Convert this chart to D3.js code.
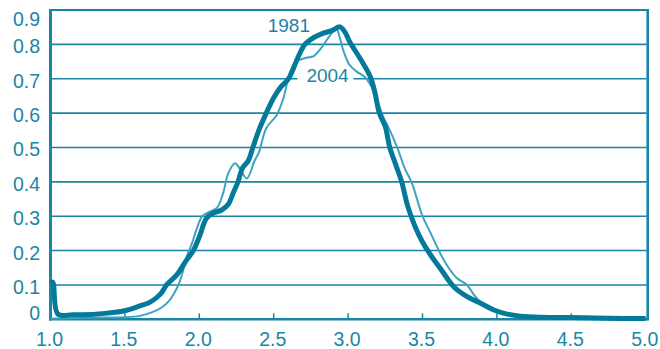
<!DOCTYPE html>
<html lang="en">
<head>
<meta charset="UTF-8">
<script src="https://cdn.jsdelivr.net/npm/d3@7"></script>
<style>
    body { margin: 0; background: #fff; }
    text { font-family: "Liberation Sans", Arial, sans-serif; }
</style>
</head>
<body>
<div id="chart"></div>
<script>
    // Values
    const xTicks = [1.0, 1.5, 2.0, 2.5, 3.0, 3.5, 4.0, 4.5, 5.0];
    const yTicks = [0, 0.1, 0.2, 0.3, 0.4, 0.5, 0.6, 0.7, 0.8, 0.9];

    const series1981 = [
        [1.00, 0.105], [1.015, 0.108], [1.05, 0.015], [1.15, 0.013], [1.27, 0.014],
        [1.38, 0.018], [1.49, 0.024], [1.60, 0.039], [1.67, 0.050], [1.74, 0.074],
        [1.78, 0.100], [1.85, 0.130], [1.915, 0.173], [1.96, 0.200], [2.00, 0.240],
        [2.05, 0.295], [2.10, 0.310], [2.15, 0.318], [2.195, 0.335], [2.23, 0.370],
        [2.26, 0.400], [2.29, 0.440], [2.33, 0.462], [2.36, 0.500], [2.40, 0.550],
        [2.45, 0.600], [2.50, 0.645], [2.55, 0.677], [2.60, 0.700], [2.665, 0.764],
        [2.71, 0.800], [2.77, 0.820], [2.83, 0.832], [2.89, 0.840], [2.945, 0.851],
        [2.98, 0.835], [3.01, 0.808], [3.05, 0.780], [3.10, 0.745], [3.15, 0.705],
        [3.18, 0.660], [3.21, 0.600], [3.25, 0.560], [3.28, 0.500], [3.32, 0.450],
        [3.36, 0.400], [3.40, 0.330], [3.45, 0.270], [3.50, 0.225], [3.55, 0.190],
        [3.62, 0.148], [3.71, 0.095], [3.80, 0.066], [3.89, 0.047], [3.98, 0.027],
        [4.07, 0.015], [4.16, 0.009], [4.30, 0.006], [4.50, 0.005], [4.75, 0.003],
        [5.00, 0.002]
    ];

    const series2004 = [
        [1.00, 0.002], [1.10, 0.003], [1.30, 0.005], [1.50, 0.006], [1.60, 0.010],
        [1.68, 0.020], [1.75, 0.035], [1.80, 0.055], [1.83, 0.075], [1.86, 0.100],
        [1.89, 0.140], [1.915, 0.182], [1.95, 0.220], [1.98, 0.260], [2.02, 0.300],
        [2.07, 0.313], [2.12, 0.325], [2.16, 0.367], [2.195, 0.425], [2.24, 0.454],
        [2.27, 0.440], [2.32, 0.410], [2.37, 0.460], [2.40, 0.485], [2.45, 0.556],
        [2.52, 0.594], [2.565, 0.643], [2.61, 0.720], [2.65, 0.750], [2.72, 0.761],
        [2.77, 0.766], [2.82, 0.790], [2.88, 0.827], [2.92, 0.847], [2.945, 0.818],
        [2.97, 0.780], [3.01, 0.740], [3.06, 0.720], [3.11, 0.706], [3.16, 0.675],
        [3.19, 0.643], [3.24, 0.585], [3.27, 0.560], [3.33, 0.500], [3.38, 0.440],
        [3.43, 0.395], [3.50, 0.300], [3.55, 0.255], [3.61, 0.200], [3.66, 0.160],
        [3.73, 0.120], [3.80, 0.100], [3.84, 0.075], [3.89, 0.050], [3.98, 0.027],
        [4.07, 0.015], [4.20, 0.008], [4.50, 0.004], [5.00, 0.002]
    ];

    const labels = [
        { text: "1981", x: 2.46, y: 0.835, box: false },
        { text: "2004", x: 2.72, y: 0.690, box: true }
    ];

    // Set dimensions
    const width = 660, height = 349;
    const ink = "#1b85a6";
    const thickColor = "#047a9a";
    const thinColor = "#3fa3c0";

    const svg = d3.select("#chart").append("svg")
        .attr("width", width)
        .attr("height", height);

    const x = d3.scaleLinear().domain([1, 5]).range([50.5, 645.7]);
    const y = d3.scaleLinear().domain([0, 0.9]).range([319.3, 10]);

    // Grid lines
    svg.append("g").selectAll("line")
        .data(yTicks.filter(d => d > 0 && d < 0.9))
        .enter().append("line")
        .attr("x1", x(1)).attr("x2", x(5) + 1)
        .attr("y1", d => y(d)).attr("y2", d => y(d))
        .attr("stroke", ink).attr("stroke-width", 1.6);

    // x tick marks (pointing up)
    svg.append("g").selectAll("line")
        .data(xTicks.slice(1, -1))
        .enter().append("line")
        .attr("x1", d => x(d)).attr("x2", d => x(d))
        .attr("y1", y(0)).attr("y2", y(0) - 6)
        .attr("stroke", ink).attr("stroke-width", 1.5);

    // Frame
    svg.append("line").attr("x1", x(1)).attr("x2", x(5) + 2)
        .attr("y1", y(0.9)).attr("y2", y(0.9))
        .attr("stroke", ink).attr("stroke-width", 2);
    svg.append("line").attr("x1", x(5) + 2).attr("x2", x(5) + 2)
        .attr("y1", y(0.9) - 1).attr("y2", y(0) + 1)
        .attr("stroke", ink).attr("stroke-width", 2.6);
    svg.append("line").attr("x1", x(1) - 1.5).attr("x2", x(5) + 3)
        .attr("y1", y(0)).attr("y2", y(0))
        .attr("stroke", ink).attr("stroke-width", 2.6);
    svg.append("line").attr("x1", x(1)).attr("x2", x(1))
        .attr("y1", y(0.9) - 1).attr("y2", y(0) + 1.3)
        .attr("stroke", ink).attr("stroke-width", 3);

    // Tick labels
    svg.append("g").selectAll("text")
        .data(yTicks)
        .enter().append("text")
        .attr("x", 40)
        .attr("y", d => Math.min(Math.max(y(d) + 2, 18.7), 313))
        .attr("dy", "0.36em")
        .attr("text-anchor", "end")
        .attr("fill", ink)
        .style("font-size", "19.5px")
        .text(d => d === 0 ? "0" : d3.format(".1f")(d));

    svg.append("g").selectAll("text")
        .data(xTicks)
        .enter().append("text")
        .attr("x", d => x(d) - 1)
        .attr("y", 345.7)
        .attr("text-anchor", "middle")
        .attr("fill", ink)
        .style("font-size", "19.5px")
        .text(d => d3.format(".1f")(d));

    // Label background boxes (break the grid line)
    labels.filter(d => d.box).forEach(d => {
        svg.append("rect")
            .attr("x", x(d.x) - 9).attr("y", y(d.y) - 18)
            .attr("width", 56).attr("height", 22)
            .attr("fill", "#fff");
    });

    // Curves
    const line = d3.line()
        .x(d => x(d[0]))
        .y(d => y(d[1]))
        .curve(d3.curveCatmullRom.alpha(0.5));

    svg.append("path")
        .datum(series2004)
        .attr("d", line)
        .attr("fill", "none")
        .attr("stroke", thinColor)
        .attr("stroke-width", 2)
        .attr("stroke-linejoin", "round");

    svg.append("path")
        .datum(series1981)
        .attr("d", line)
        .attr("fill", "none")
        .attr("stroke", thickColor)
        .attr("stroke-width", 5)
        .attr("stroke-linejoin", "round");

    // Series labels
    svg.append("g").selectAll("text")
        .data(labels)
        .enter().append("text")
        .attr("x", d => x(d.x))
        .attr("y", d => y(d.y))
        .attr("fill", ink)
        .style("font-size", "19px")
        .text(d => d.text);
</script>
</body>
</html>
